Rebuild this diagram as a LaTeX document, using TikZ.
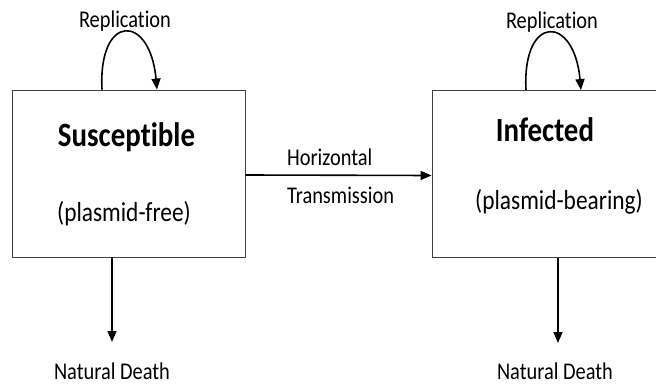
\documentclass[tikz,border=0pt]{standalone}
\usepackage{fontspec}
\setmainfont{Carlito}[Ligatures=NoCommon, FakeStretch=0.85]
\usetikzlibrary{arrows.meta}

\begin{document}
\begin{tikzpicture}[
            x = 1pt, y = -1pt, % pixel units, y grows downwards
            > = {Triangle[length=11pt, width=9pt]}, % arrow head style
            line width = 1.6pt, % line style
            font = \fontsize{24}{28}\selectfont
        ]
        \tikzstyle{compartment}=[
            draw = black!75,
            line width = 0.9pt,
            fill = white,
            rectangle,
            inner sep = 0pt
        ]
        \tikzstyle{title}=[
            font = \fontsize{34}{40}\selectfont\bfseries
        ]
        \tikzstyle{subtitle}=[
            font = \fontsize{27.5}{32}\selectfont
        ]
        \clip (0,0) rectangle (656,385);

        % compartments
        \node[compartment, minimum width=233pt, minimum height=167pt] (S) at (128.5,173.5) {};
        \node[compartment, minimum width=240pt, minimum height=167pt] (I) at (552,174) {};

        \node[title] (Stitle) at (126.5,137) {Susceptible};
        \node[subtitle] (Ssub) at (124,214) {(plasmid-free)};
        \node[title] (Ititle) at (545,130) {Infected};
        \node[subtitle] (Isub) at (559,202) {(plasmid-bearing)};

        % replication loops
        \coordinate (Sa) at ([xshift=-26.5pt]S.north);
        \coordinate (Sb) at ([xshift=28.5pt]S.north);
        \coordinate (Ia) at ([xshift=-26pt]I.north);
        \coordinate (Ib) at ([xshift=29pt]I.north);
        \draw[->] (Sa) .. controls (98,13) and (150,13) .. (Sb);
        \draw[->] (Ia) .. controls (522,14) and (574,14) .. (Ib);
        \node (Srep) at (125,21) {Replication};
        \node (Irep) at (552,22) {Replication};

        % transmission
        \draw[->] ([yshift=-1.5pt]S.east) -- ([yshift=-1.5pt]I.west);
        \node[anchor=west] (Htop) at (283,157) {Horizontal};
        \node[anchor=west] (Hbot) at (283,195) {Transmission};

        % natural death
        \coordinate (Sd) at ([xshift=-16.5pt]S.south);
        \coordinate (Id) at ([xshift=6pt]I.south);
        \coordinate (Sdeath) at (112,342);
        \coordinate (Ideath) at (558,343);
        \draw[->] (Sd) -- (Sdeath);
        \draw[->] (Id) -- (Ideath);
        \node[inner sep=0pt] (Slabel) at (112,371) {Natural Death};
        \node[inner sep=0pt] (Ilabel) at (555,371) {Natural Death};
    \end{tikzpicture}
\end{document}
